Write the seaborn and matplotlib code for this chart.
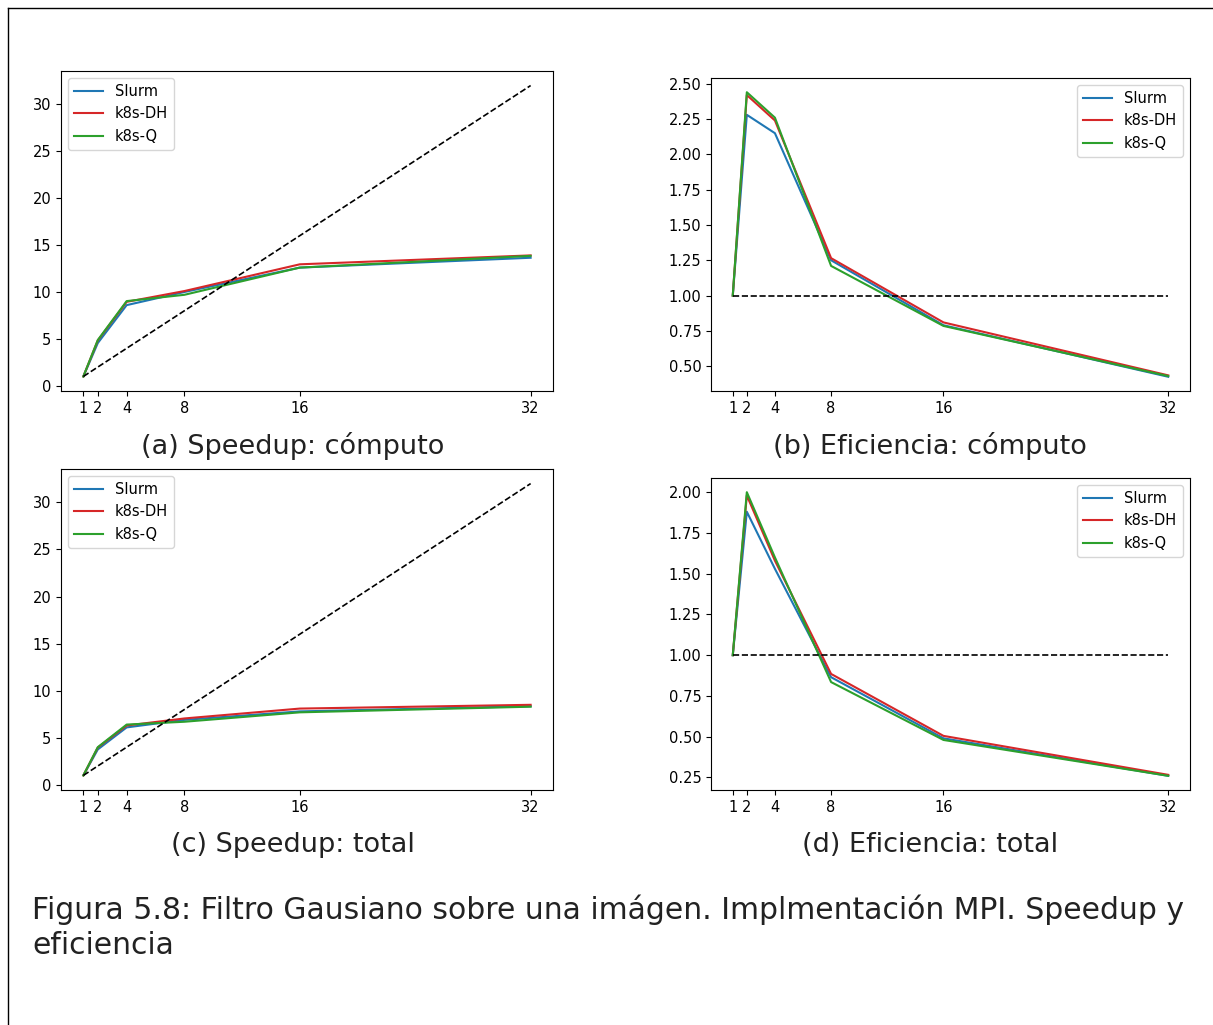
import matplotlib
matplotlib.use("Agg")
import matplotlib.pyplot as plt
import seaborn as sns
import pandas as pd
from matplotlib.lines import Line2D

# number of processes
procs = [1, 2, 4, 8, 16, 32]
series_names = ["Slurm", "k8s-DH", "k8s-Q"]
colors = ["tab:blue", "tab:red", "tab:green"]

# speedup / efficiency, computation only
speedup_comp_slurm = [1, 4.56, 8.6, 10.0, 12.6, 13.65]
speedup_comp_dh = [1, 4.84, 8.95, 10.1, 12.95, 13.9]
speedup_comp_q = [1, 4.88, 9.03, 9.7, 12.6, 13.85]

eff_comp_slurm = [1, 2.28, 2.15, 1.25, 0.79, 0.425]
eff_comp_dh = [1, 2.42, 2.24, 1.265, 0.81, 0.435]
eff_comp_q = [1, 2.44, 2.26, 1.21, 0.785, 0.43]

# speedup / efficiency, total time
speedup_tot_slurm = [1, 3.76, 6.1, 6.9, 7.8, 8.35]
speedup_tot_dh = [1, 3.96, 6.3, 7.05, 8.1, 8.5]
speedup_tot_q = [1, 4.0, 6.4, 6.7, 7.7, 8.3]

eff_tot_slurm = [1, 1.88, 1.53, 0.865, 0.49, 0.26]
eff_tot_dh = [1, 1.98, 1.58, 0.885, 0.505, 0.266]
eff_tot_q = [1, 2.0, 1.6, 0.835, 0.48, 0.26]

ideal_speedup = [1, 32]
ideal_eff = [1, 1]


def make_df(slurm, dh, q):
    rows = []
    for name, vals in zip(series_names, [slurm, dh, q]):
        for p, v in zip(procs, vals):
            rows.append({"procs": p, "value": v, "sistema": name})
    return pd.DataFrame(rows)


def draw_panel(ax, df, ideal_y, legend_loc):
    sns.lineplot(data=df, x="procs", y="value", hue="sistema",
                 palette=colors, linewidth=1.5, ax=ax, errorbar=None)
    ax.plot([procs[0], procs[-1]], ideal_y, "k--", linewidth=1.2)
    ax.set_xticks(procs)
    ax.set_xlabel("")
    ax.set_ylabel("")
    ax.tick_params(labelsize=10.5)
    ax.legend(loc=legend_loc, fontsize=10.5)


W, H = 1213, 1025
fig = plt.figure(figsize=(W / 100, H / 100), dpi=100)


def box(l, t, r, b):
    return [l / W, 1 - b / H, (r - l) / W, (b - t) / H]


ax_a = fig.add_axes(box(61, 71, 553, 391))
ax_b = fig.add_axes(box(711, 78, 1190, 391))
ax_c = fig.add_axes(box(61, 469, 553, 790))
ax_d = fig.add_axes(box(711, 478, 1190, 790))

draw_panel(ax_a, make_df(speedup_comp_slurm, speedup_comp_dh, speedup_comp_q),
           ideal_speedup, "upper left")
draw_panel(ax_b, make_df(eff_comp_slurm, eff_comp_dh, eff_comp_q),
           ideal_eff, "upper right")
draw_panel(ax_c, make_df(speedup_tot_slurm, speedup_tot_dh, speedup_tot_q),
           ideal_speedup, "upper left")
draw_panel(ax_d, make_df(eff_tot_slurm, eff_tot_dh, eff_tot_q),
           ideal_eff, "upper right")

cap_font = dict(fontsize=19.5, ha="center", va="center", color="#222222")
fig.text(293 / W, 1 - 446 / H, "(a) Speedup: cómputo", **cap_font)
fig.text(930 / W, 1 - 446 / H, "(b) Eficiencia: cómputo", **cap_font)
fig.text(293 / W, 1 - 845 / H, "(c) Speedup: total", **cap_font)
fig.text(930 / W, 1 - 845 / H, "(d) Eficiencia: total", **cap_font)

fig.text(32 / W, 1 - 910 / H,
         "Figura 5.8: Filtro Gausiano sobre una imágen. Implmentación MPI. Speedup y",
         fontsize=21.5, ha="left", va="center", color="#222222")
fig.text(32 / W, 1 - 946 / H, "eficiencia",
         fontsize=21.5, ha="left", va="center", color="#222222")

# page border (top and left)
fig.add_artist(Line2D([8 / W, 1], [1 - 8 / H, 1 - 8 / H], color="black", linewidth=1))
fig.add_artist(Line2D([8 / W, 8 / W], [0, 1 - 8 / H], color="black", linewidth=1))

fig.savefig("out.png", dpi=100)
